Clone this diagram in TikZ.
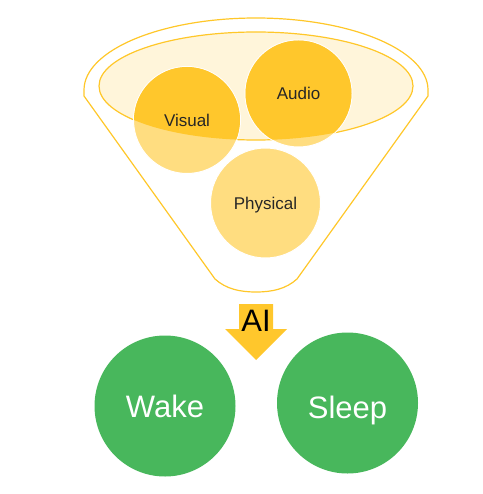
\documentclass[tikz,border=0pt]{standalone}
\usepackage{fontspec}
\setmainfont{Liberation Sans}
\definecolor{funline}{HTML}{FFC729}
\definecolor{darky}{HTML}{FFC72C}
\definecolor{lighty}{HTML}{FFDD80}
\definecolor{cream}{HTML}{FFF5DA}
\definecolor{greenc}{HTML}{48B75C}
\begin{document}
\begin{tikzpicture}[x=1pt,y=-1pt,
  sense/.style={circle, inner sep=0pt, minimum size=107pt, fill=lighty, draw=white, line width=1pt},
  senselabel/.style={font=\fontsize{17}{20}\selectfont, text=black!85, text depth=0pt},
  state/.style={circle, inner sep=0pt, minimum size=141pt, fill=greenc, text=white, text depth=0pt, font=\fontsize{31}{36}\selectfont}]
\useasboundingbox (0,0) rectangle (482,494);
% funnel outline
\draw[funline, line width=1.2pt, line join=round]
  (84,90) arc[start angle=180, end angle=0, x radius=172pt, y radius=72pt]
  -- (428,96) -- (297,279)
  .. controls (286,289) and (272,292) .. (256,292)
  .. controls (240,292) and (226,289) .. (215,279)
  -- (84,96) -- cycle;
% inner ellipse
\draw[funline, line width=1.2pt, fill=cream] (256,86) ellipse [x radius=157pt, y radius=54pt];
% sensor circles
\node[sense] (visual) at (187,120) {};
\node[sense] (audio) at (298.5,93.5) {};
\node[sense, minimum size=110pt] (physical) at (265.5,203) {};
\begin{scope}
  \clip (256,86) ellipse [x radius=157pt, y radius=54pt];
  \fill[darky] (visual.center) circle [radius=53pt];
  \fill[darky] (audio.center) circle [radius=53pt];
\end{scope}
\node[senselabel] at (visual.center) {Visual};
\node[senselabel] at (audio.center) {Audio};
\node[senselabel] at (physical.center) {Physical};
% AI arrow
\fill[darky] (239,304) -- (273,304) -- (273,329) -- (287,329) -- (256,360) -- (225,329) -- (239,329) -- cycle;
\node[font=\fontsize{31}{36}\selectfont, text=black, text depth=0pt] (ai) at (256,321) {AI};
% states
\node[state] (wake) at (165,406) {Wake};
\node[state] (sleep) at (347.5,403) {};
\node[text=white, text depth=0pt, font=\fontsize{31}{36}\selectfont] at (347.5,407) {Sleep};
\end{tikzpicture}
\end{document}
